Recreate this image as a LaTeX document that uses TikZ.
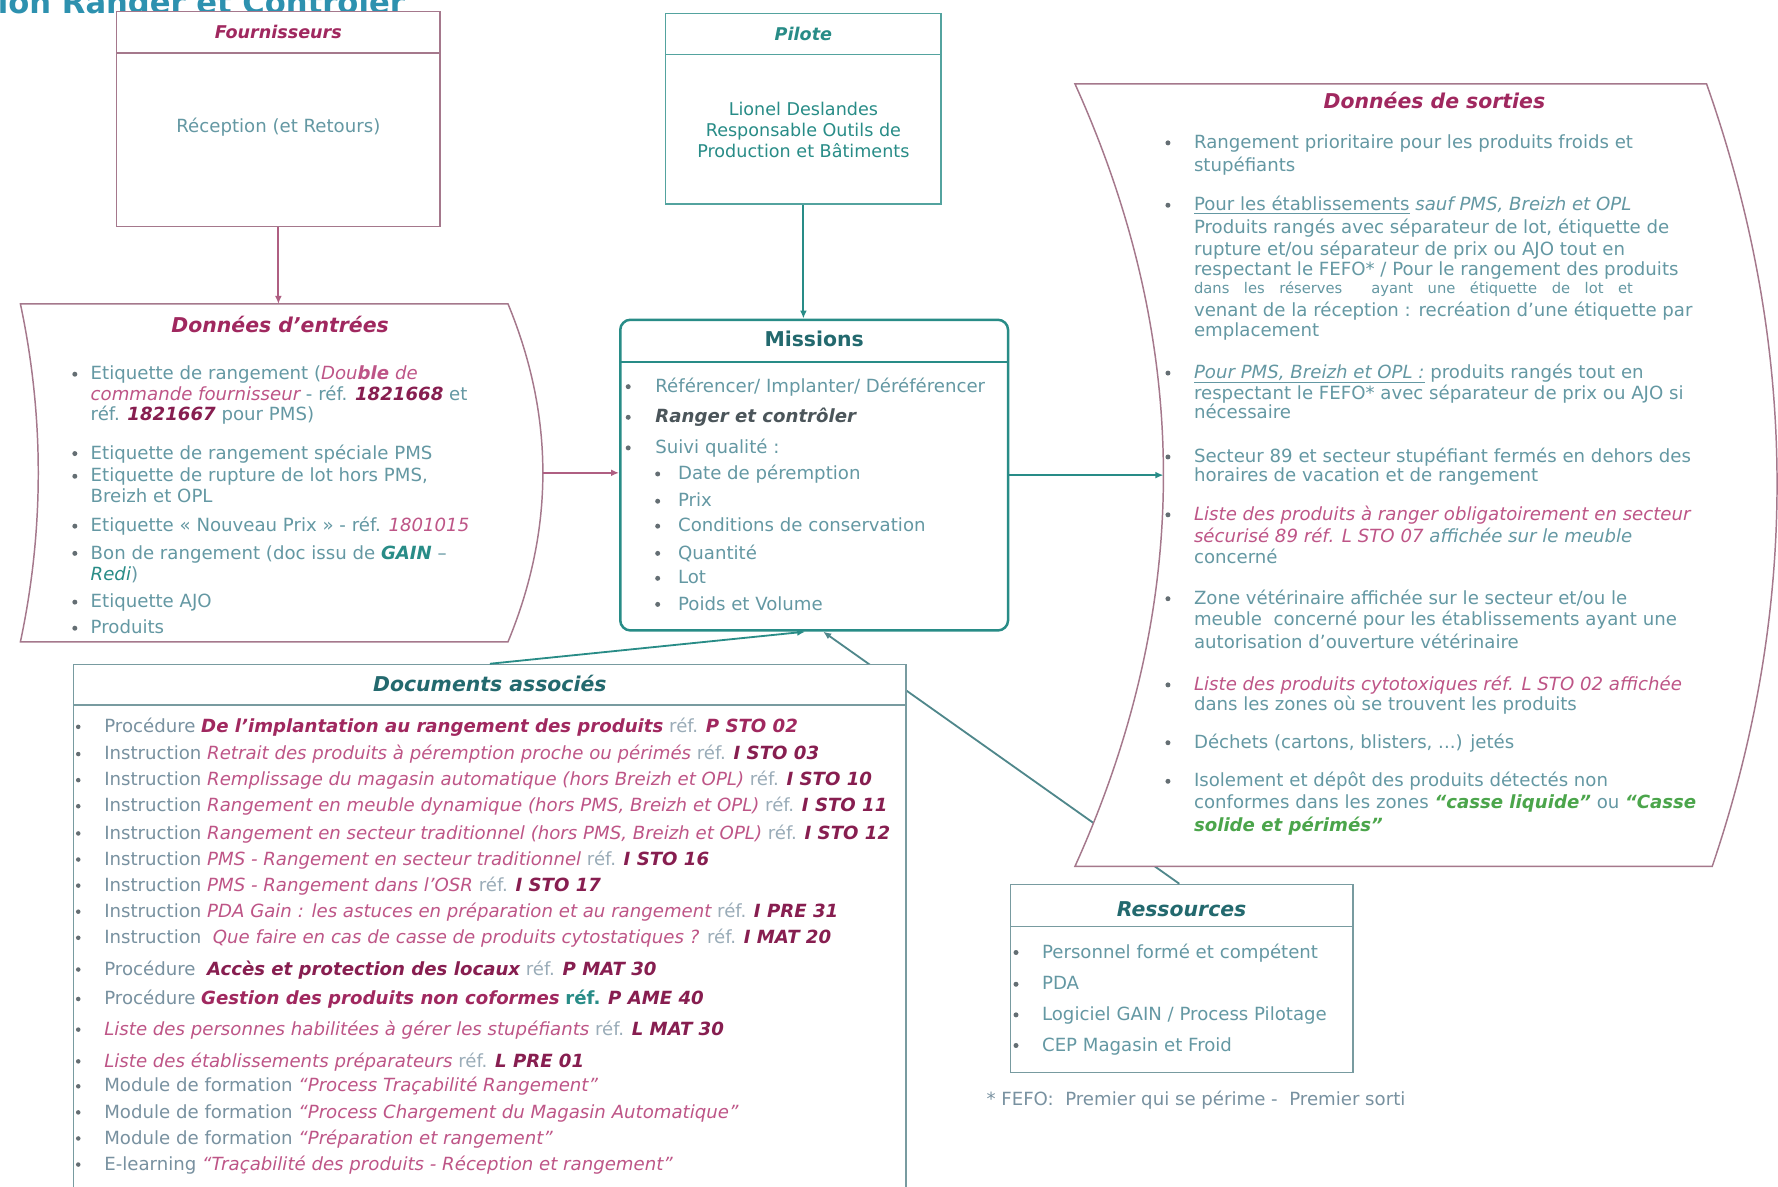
\documentclass[tikz,border=0pt]{standalone}
\usepackage{fontspec}
\setmainfont{DejaVu Sans}
\usetikzlibrary{arrows.meta}
\definecolor{bodyc}{RGB}{100,152,163}
\definecolor{crim}{RGB}{160,40,95}
\definecolor{crimL}{RGB}{190,85,135}
\definecolor{crimD}{RGB}{135,30,80}
\definecolor{tealD}{RGB}{35,105,110}
\definecolor{tealL}{RGB}{40,140,135}
\definecolor{pinkL}{RGB}{175,95,130}
\definecolor{mauve}{RGB}{165,120,140}
\definecolor{grayb}{RGB}{120,145,160}
\definecolor{boxg}{RGB}{120,155,160}
\definecolor{darkg}{RGB}{75,85,90}
\definecolor{greenc}{RGB}{75,165,75}
\definecolor{titlec}{RGB}{45,145,175}
\definecolor{bulc}{RGB}{100,110,115}
\newcommand\TL[4]{\node[txt] (#1) at (#2,#3+5) {#4};}
\newcommand\DL[3]{\node[doc] (#1) at (92,#2+5) {#3};\fill[bulc] (69,#2) circle (2pt);}
\newcommand\BU[2]{\fill[bulc] (#1,#2) circle (2.2pt);}
\newcommand\Ci[1]{{\color{crimL}\itshape #1}}
\newcommand\Cb[1]{{\color{crimD}\bfseries\itshape #1}}
\newcommand\Rf{{\color{grayb!75}réf.}}
\begin{document}
\begin{tikzpicture}[x=1pt,y=-1pt,
  txt/.style={inner sep=0pt,outer sep=0pt,anchor=base west,text=bodyc,font=\fontsize{16}{18}\selectfont},
  doc/.style={txt,text=grayb,font=\fontsize{16}{18}\selectfont},
  ctr/.style={inner sep=0pt,outer sep=0pt,anchor=base,text=bodyc,font=\fontsize{16}{18}\selectfont},
  ttl/.style={inner sep=0pt,outer sep=0pt,anchor=base,font=\fontsize{18}{20}\selectfont\bfseries\itshape},
  sttl/.style={ttl,font=\fontsize{15.5}{18}\selectfont\bfseries\itshape},
  mbox/.style={draw=mauve,line width=1.2pt,fill=white,inner sep=0pt},
  gbox/.style={draw=boxg,line width=1.3pt,fill=white,inner sep=0pt},
  pinkarr/.style={draw=pinkL,line width=1.6pt,-{Latex[length=7pt,width=6pt]}},
  tealarr/.style={draw=tealL,line width=1.6pt,-{Latex[length=7pt,width=6pt]}},
  darkarr/.style={draw=tealD!80,line width=1.6pt,-{Latex[length=7pt,width=6pt]}}
]
\fill[white] (0,0) rectangle (1568,1046);
\useasboundingbox (0,0) rectangle (1568,1046);

% partial title (cut at the top edge, as in the reference)
\node[inner sep=0pt,anchor=base west,text=titlec,font=\fontsize{27}{30}\selectfont\bfseries] (title) at (-2,12) {ion Ranger et Contrôler};

% boxes
\node[mbox,minimum width=285pt,minimum height=190pt] (fourn) at (245.5,105) {};
\draw[mauve,line width=1.6pt] (103,47) -- (388,47);
\node[draw=tealL!80,line width=1.2pt,fill=white,inner sep=0pt,minimum width=243pt,minimum height=168pt] (pilote) at (708.5,96) {};
\draw[tealL!80,line width=1.6pt] (587,48) -- (830,48);

\node[gbox,minimum width=302pt,minimum height=166pt] (res) at (1042,863) {};
\draw[boxg,line width=1.6pt] (891,817) -- (1193,817);

\node[draw=tealL,line width=2.2pt,fill=white,rounded corners=9pt,inner sep=0pt,minimum width=342pt,minimum height=274pt] (missions) at (718,419) {};
\draw[tealL,line width=2pt] (547,319) -- (889,319);

% resources connector (runs behind the output shape)
\draw[darkarr] ([xshift=-2pt]res.north) -- ([xshift=8pt]missions.south);

% input shape
\filldraw[fill=white,draw=mauve,line width=1.3pt] (18,268) -- (448,268) .. controls (489,367) and (489,467) .. (448,566) -- (18,566) .. controls (39,467) and (39,367) .. (18,268) -- cycle;
\coordinate (entTop) at (245.5,268);
\coordinate (entR) at (479,417);
% output shape
\filldraw[fill=white,draw=mauve,line width=1.3pt] (948,74) -- (1505,74) .. controls (1586,304) and (1588,534) .. (1510,764) -- (948,764) .. controls (1052,534) and (1052,304) .. (948,74) -- cycle;
\coordinate (sorL) at (1026,419);

\node[gbox,minimum width=734pt,minimum height=474pt] (docs) at (432,823) {};
\draw[boxg,line width=1.6pt] (65,622) -- (799,622);

% connectors
\draw[pinkarr] (fourn.south) -- (entTop);
\draw[pinkarr] (entR) -- (entR -| missions.west);
\draw[tealarr] (pilote.south) -- (pilote.south |- missions.north);
\draw[tealarr] (missions.east |- sorL) -- (sorL);
\draw[tealarr] (docs.north) -- ([xshift=-8pt]missions.south);

% Fournisseurs
\node[sttl,text=crim] (fournT) at (245.5,34) {Fournisseurs};
\node[ctr] (fournB) at (245.5,117) {Réception (et Retours)};

% Pilote
\node[sttl,text=tealL] (piloteT) at (708.5,36) {Pilote};
\node[ctr,text=tealL,font=\fontsize{15.5}{18}\selectfont] (pil1) at (708.5,102) {Lionel Deslandes};
\node[ctr,text=tealL,font=\fontsize{15.5}{18}\selectfont] (pil2) at (708.5,120) {Responsable Outils de};
\node[ctr,text=tealL,font=\fontsize{15.5}{18}\selectfont] (pil3) at (708.5,139) {Production et Bâtiments};

% Entrees
\node[ttl,text=crim] (entT) at (247,293) {Données d’entrées};
\TL{e1a}{80}{330}{Etiquette de rangement ({\color{crimL}\itshape Dou\textbf{ble} de}}
\TL{e1b}{80}{348}{\Ci{commande fournisseur} - réf. \Cb{1821668} et}
\TL{e1c}{80}{366}{réf. \Cb{1821667} pour PMS)}
\TL{e2}{80}{400}{Etiquette de rangement spéciale PMS}
\TL{e3a}{80}{420}{Etiquette de rupture de lot hors PMS,}
\TL{e3b}{80}{438}{Breizh et OPL}
\TL{e4}{80}{464}{Etiquette « Nouveau Prix » - réf. \Ci{1801015}}
\TL{e5a}{80}{488}{Bon de rangement (doc issu de {\color{tealL}\bfseries\itshape GAIN} –}
\TL{e5b}{80}{507}{{\color{tealL}\itshape Redi})}
\TL{e6}{80}{531}{Etiquette AJO}
\TL{e7}{80}{554}{Produits}
\BU{66}{330}\BU{66}{400}\BU{66}{420}\BU{66}{464}\BU{66}{488}\BU{66}{531}\BU{66}{554}

% Missions
\node[ttl,text=tealD,font=\fontsize{18}{20}\selectfont\bfseries] (missT) at (718,306) {Missions};
\TL{m1}{578}{341}{Référencer/ Implanter/ Déréférencer}
\TL{m2}{578}{368}{{\color{darkg}\bfseries\itshape Ranger et contrôler}}
\TL{m3}{578}{395}{Suivi qualité :}
\TL{m4}{598}{418}{Date de péremption}
\TL{m5}{598}{442}{Prix}
\TL{m6}{598}{464}{Conditions de conservation}
\TL{m7}{598}{488}{Quantité}
\TL{m8}{598}{510}{Lot}
\TL{m9}{598}{533}{Poids et Volume}
\BU{554}{341}\BU{554}{368}\BU{554}{395}
\BU{580}{418}\BU{580}{442}\BU{580}{464}\BU{580}{488}\BU{580}{510}\BU{580}{533}

% Sorties
\node[ttl,text=crim] (sorT) at (1265,96) {Données de sorties};
\TL{s1a}{1053}{126}{Rangement prioritaire pour les produits froids et}
\TL{s1b}{1053}{146}{stupéfiants}
\TL{s2a}{1053}{181}{\underline{Pour les établissements} {\itshape sauf PMS, Breizh et OPL}}
\TL{s2b}{1053}{201}{Produits rangés avec séparateur de lot, étiquette de}
\TL{s2c}{1053}{220}{rupture et/ou séparateur de prix ou AJO tout en}
\TL{s2d}{1053}{238}{respectant le FEFO* / Pour le rangement des produits}
\node[txt,font=\fontsize{13}{14}\selectfont] (s2e) at (1053,259) {\makebox[387pt][s]{dans les réserves\ \ ayant une étiquette de lot et}};
\TL{s2f}{1053}{274}{venant de la réception : recréation d’une étiquette par}
\TL{s2g}{1053}{292}{emplacement}
\TL{s3a}{1053}{329}{{\itshape\underline{Pour PMS, Breizh et OPL :}} produits rangés tout en}
\TL{s3b}{1053}{347}{respectant le FEFO* avec séparateur de prix ou AJO si}
\TL{s3c}{1053}{364}{nécessaire}
\TL{s4a}{1053}{403}{Secteur 89 et secteur stupéfiant fermés en dehors des}
\TL{s4b}{1053}{420}{horaires de vacation et de rangement}
\TL{s5a}{1053}{454}{\Ci{Liste des produits à ranger obligatoirement en secteur}}
\TL{s5b}{1053}{473}{\Ci{sécurisé 89 réf. L STO 07} {\itshape affichée sur le meuble}}
\TL{s5c}{1053}{492}{concerné}
\TL{s6a}{1053}{528}{Zone vétérinaire affichée sur le secteur et/ou le}
\TL{s6b}{1053}{547}{meuble\ \ concerné pour les établissements ayant une}
\TL{s6c}{1053}{567}{autorisation d’ouverture vétérinaire}
\TL{s7a}{1053}{604}{\Ci{Liste des produits cytotoxiques réf. L STO 02 affichée}}
\TL{s7b}{1053}{622}{dans les zones où se trouvent les produits}
\TL{s8}{1053}{655}{Déchets (cartons, blisters, ...) jetés}
\TL{s9a}{1053}{689}{Isolement et dépôt des produits détectés non}
\TL{s9b}{1053}{708}{conformes dans les zones {\color{greenc}\bfseries\itshape “casse liquide”} ou {\color{greenc}\bfseries\itshape “Casse}}
\TL{s9c}{1053}{728}{{\color{greenc}\bfseries\itshape solide et périmés”}}
\BU{1030}{126}\BU{1030}{181}\BU{1030}{329}\BU{1030}{403}\BU{1030}{454}\BU{1030}{528}\BU{1030}{604}\BU{1030}{655}\BU{1030}{689}

% Documents
\node[ttl,text=tealD] (docT) at (432,610) {Documents associés};
\DL{d1}{641}{Procédure {\color{crim}\bfseries\itshape De l’implantation au rangement des produits} \Rf{} {\color{crim}\bfseries\itshape P STO 02}}
\DL{d2}{665}{Instruction \Ci{Retrait des produits à péremption proche ou périmés} \Rf{} \Cb{I STO 03}}
\DL{d3}{688}{Instruction \Ci{Remplissage du magasin automatique (hors Breizh et OPL)} \Rf{} \Cb{I STO 10}}
\DL{d4}{711}{Instruction \Ci{Rangement en meuble dynamique (hors PMS, Breizh et OPL)} \Rf{} \Cb{I STO 11}}
\DL{d5}{735}{Instruction \Ci{Rangement en secteur traditionnel (hors PMS, Breizh et OPL)} \Rf{} \Cb{I STO 12}}
\DL{d6}{758}{Instruction \Ci{PMS - Rangement en secteur traditionnel} \Rf{} \Cb{I STO 16}}
\DL{d7}{781}{Instruction \Ci{PMS - Rangement dans l’OSR} \Rf{} \Cb{I STO 17}}
\DL{d8}{804}{Instruction \Ci{PDA Gain : les astuces en préparation et au rangement} \Rf{} \Cb{I PRE 31}}
\DL{d9}{827}{Instruction\ \ \Ci{Que faire en cas de casse de produits cytostatiques ?} \Rf{} \Cb{I MAT 20}}
\DL{d10}{855}{Procédure\ \ \Cb{Accès et protection des locaux} \Rf{} \Cb{P MAT 30}}
\DL{d11}{881}{Procédure {\color{crim}\bfseries\itshape Gestion des produits non coformes} {\color{tealL}\bfseries réf.} \Cb{P AME 40}}
\DL{d12}{908}{\Ci{Liste des personnes habilitées à gérer les stupéfiants} \Rf{} \Cb{L MAT 30}}
\DL{d13}{936}{\Ci{Liste des établissements préparateurs} \Rf{} \Cb{L PRE 01}}
\DL{d14}{958}{Module de formation \Ci{“Process Traçabilité Rangement”}}
\DL{d15}{981}{Module de formation \Ci{“Process Chargement du Magasin Automatique”}}
\DL{d16}{1004}{Module de formation \Ci{“Préparation et rangement”}}
\DL{d17}{1027}{E-learning \Ci{“Traçabilité des produits - Réception et rangement”}}

% Ressources
\node[ttl,text=tealD] (resT) at (1042,808) {Ressources};
\TL{r1}{919}{840}{Personnel formé et compétent}
\TL{r2}{919}{868}{PDA}
\TL{r3}{919}{895}{Logiciel GAIN / Process Pilotage}
\TL{r4}{919}{922}{CEP Magasin et Froid}
\BU{896}{840}\BU{896}{868}\BU{896}{895}\BU{896}{922}

% footnote
\TL{fn}{870}{970}{{\color{grayb}* FEFO:\ \ Premier qui se périme -\ \ Premier sorti}}
\end{tikzpicture}
\end{document}
